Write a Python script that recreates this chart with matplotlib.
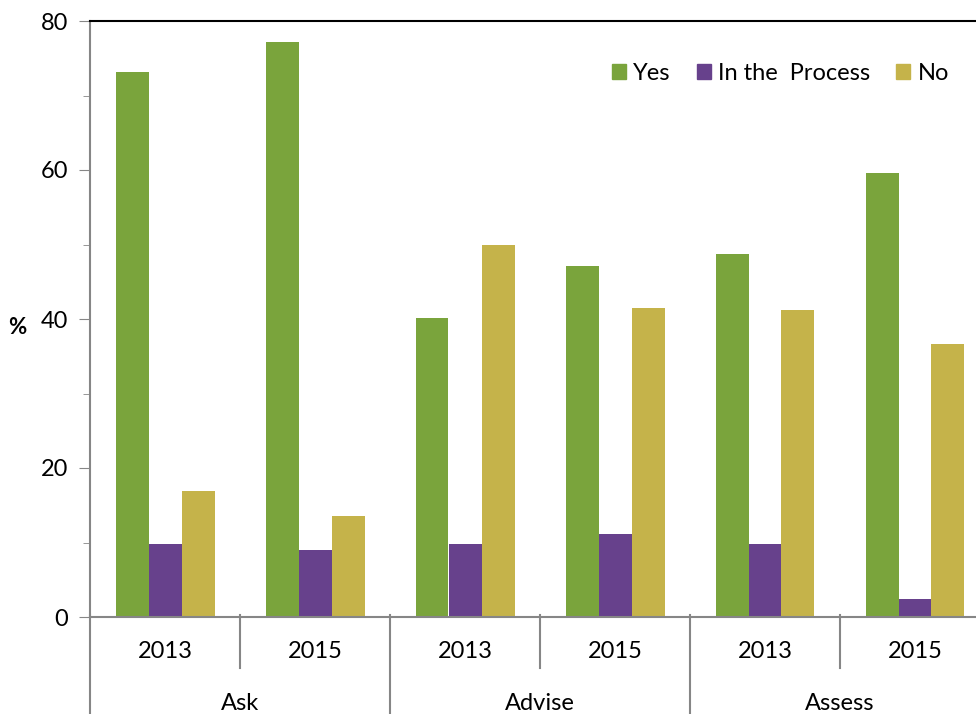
import numpy as np
import matplotlib.pyplot as plt
from matplotlib.patches import Patch

plt.rcParams['font.family'] = ['Lato', 'DejaVu Sans']

groups = ['Ask', 'Advise', 'Assess']
years = ['2013', '2015']
series = ['Yes', 'In the  Process', 'No']
yes = [73.2, 77.2, 40.1, 47.1, 48.7, 59.6]
process = [9.8, 9.0, 9.8, 11.1, 9.8, 2.4]
no = [16.9, 13.6, 49.9, 41.5, 41.2, 36.6]
colors = ['#7aa43c', '#67418c', '#c5b34a']

fig = plt.figure(figsize=(9.76, 7.14), dpi=100)
ax = fig.add_axes([90/976, 97/714, 900/976, 596/714])

x = np.arange(6) + 0.5
w = 0.22
for i, vals in enumerate([yes, process, no]):
    ax.bar(x + (i - 1) * w, vals, width=w, color=colors[i], linewidth=0)

fs = 17
ax.set_xlim(0, 6)
ax.set_ylim(0, 80)
ax.set_yticks([0, 20, 40, 60, 80])
ax.set_yticks([10, 30, 50, 70], minor=True)
ax.tick_params(axis='y', which='major', length=8, color='#868686', labelsize=fs, pad=8)
ax.tick_params(axis='y', which='minor', length=5, color='#868686')
ax.set_xticks([])
for s in ['left', 'bottom']:
    ax.spines[s].set_color('#868686')
    ax.spines[s].set_linewidth(1.5)
ax.spines['top'].set_color('black')
ax.spines['top'].set_linewidth(1.5)
ax.spines['right'].set_visible(False)

ax.set_ylabel('%', fontsize=fs - 1, fontweight='bold', rotation=0, va='center', ha='center')
ax.yaxis.set_label_coords(-73/900, 0.485)

# two-level category axis
tr = ax.get_xaxis_transform()
h = 596
for k in range(7):
    bottom = -51/h if k % 2 == 1 else -100/h
    ax.plot([k, k], [0.004, bottom], transform=tr, color='#868686', lw=1.5, clip_on=False)
for k in range(6):
    ax.text(x[k], -35/h, years[k % 2], transform=tr, ha='center', va='center', fontsize=fs)
for g in range(3):
    ax.text(2 * g + 1, -86/h, groups[g], transform=tr, ha='center', va='center', fontsize=fs)

handles = [Patch(color=c) for c in colors]
fig.legend(handles, series, loc='upper right', bbox_to_anchor=(970/976, 1 - 42/714), ncol=3, frameon=False,
           fontsize=fs, handlelength=0.6, handleheight=0.6, handletextpad=0.3, columnspacing=1.1)

fig.savefig('out.png', dpi=100)
